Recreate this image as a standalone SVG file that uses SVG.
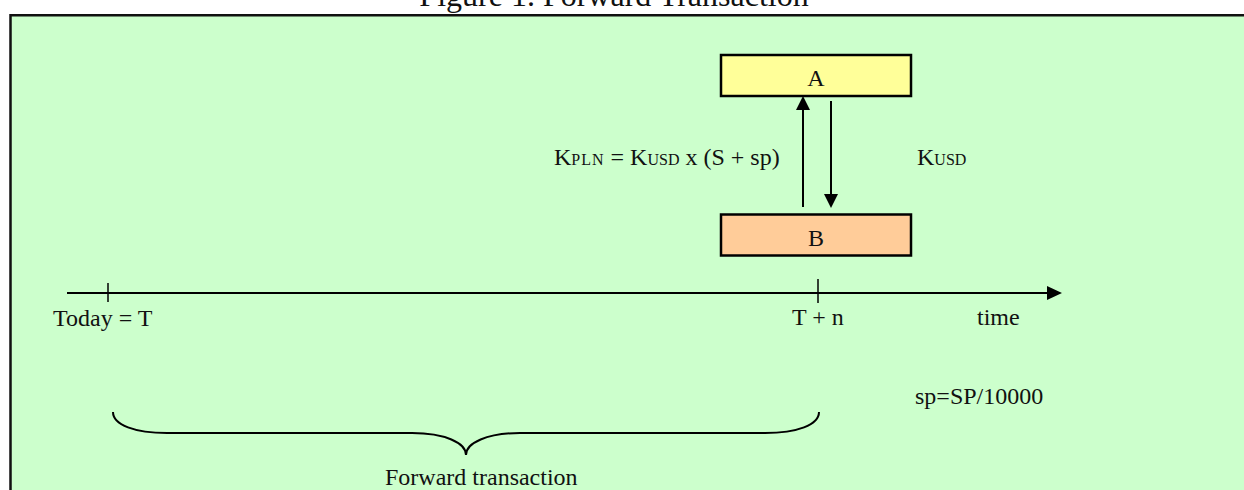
<svg xmlns="http://www.w3.org/2000/svg" width="1244" height="490" viewBox="0 0 1244 490">
  <style>
    text { font-family: "Liberation Serif", "Times New Roman", serif; font-size: 24px; fill: #111; }
    .title { font-size: 32px; }
    .sc { font-size: 16px; }
    .frame { fill: #CCFFCC; stroke: #111; stroke-width: 2.5; }
    .box { stroke: #000; stroke-width: 2.5; }
    .line { stroke: #000; stroke-width: 2; fill: none; }
    .tick { stroke: #000; stroke-width: 1.5; }
    .head { fill: #000; }
  </style>

  <!-- page background and caption -->
  <rect x="0" y="0" width="1244" height="490" fill="#FFFFFF"/>
  <text class="title" x="614" y="6" text-anchor="middle">Figure 1. Forward Transaction</text>

  <!-- green panel, open past the right and bottom edges -->
  <rect class="frame" x="10.5" y="15.25" width="1250" height="490"/>

  <!-- parties -->
  <g id="node-A">
    <rect class="box" x="721" y="55" width="190" height="41" fill="#FFFF99"/>
    <text x="816" y="86" text-anchor="middle">A</text>
  </g>
  <g id="node-B">
    <rect class="box" x="721" y="214.5" width="190" height="41" fill="#FFCC99"/>
    <text x="816" y="246" text-anchor="middle">B</text>
  </g>

  <!-- payment flows between the parties -->
  <g id="connectors">
    <line class="line" x1="803" y1="207" x2="803" y2="108"/>
    <polygon class="head" points="803,96 796,110 810,110"/>
    <line class="line" x1="831" y1="101" x2="831" y2="196"/>
    <polygon class="head" points="831,208 824,194 838,194"/>
  </g>

  <g id="flow-labels">
    <text x="554" y="165">K<tspan class="sc" letter-spacing="1">PLN</tspan> = K<tspan class="sc">USD</tspan> x (S + sp)</text>
    <text x="917" y="165">K<tspan class="sc">USD</tspan></text>
  </g>

  <!-- time axis -->
  <g id="timeline">
    <line class="line" x1="67" y1="293" x2="1050" y2="293"/>
    <polygon class="head" points="1062,293 1047,286 1047,300"/>
    <line class="tick" x1="108" y1="283" x2="108" y2="302"/>
    <line class="tick" x1="818" y1="279" x2="818" y2="303"/>
    <text x="53" y="326">Today = T</text>
    <text x="792" y="325">T + n</text>
    <text x="977" y="325">time</text>
  </g>

  <g id="spread-note">
    <text x="915" y="404">sp=SP/10000</text>
  </g>

  <!-- period covered by the contract -->
  <g id="forward-span">
    <path class="line" d="M113,412 C113,425 135,433 167,433 L412,433 C445,433 466,443 466,455 C466,443 487,433 520,433 L765,433 C797,433 819,425 819,412"/>
    <text x="385" y="485">Forward transaction</text>
  </g>
</svg>
